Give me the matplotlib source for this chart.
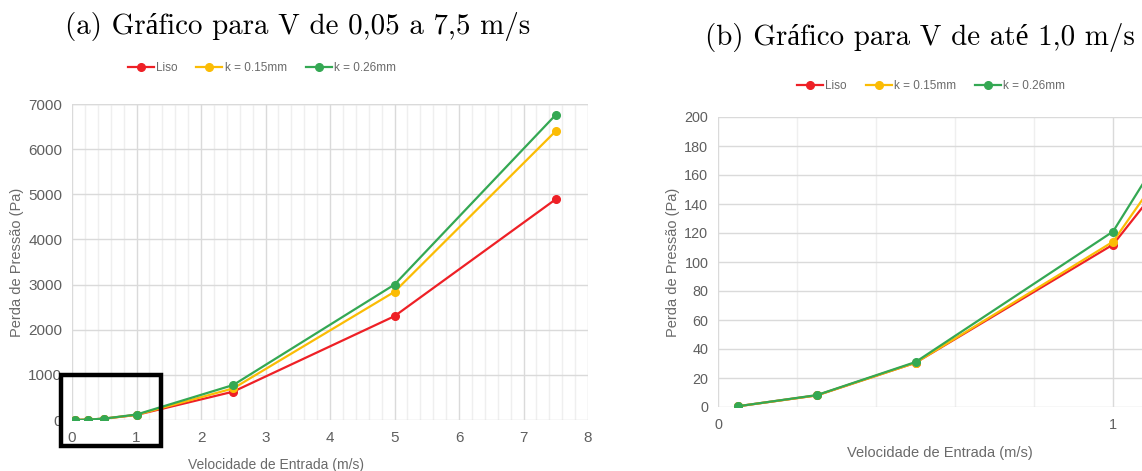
import matplotlib
matplotlib.use("Agg")
import matplotlib.pyplot as plt
from matplotlib.ticker import MultipleLocator
from matplotlib.patches import Rectangle

# ---- data ----
velocidade = [0.05, 0.25, 0.5, 1.0, 2.5, 5.0, 7.5]
liso = [0.5, 8, 30.5, 112, 628, 2300, 4890]
k015 = [0.5, 8, 30.5, 114, 700, 2840, 6400]
k026 = [0.5, 8.2, 31, 121, 775, 3000, 6760]
series_names = ["Liso", "k = 0.15mm", "k = 0.26mm"]
titles = ["(a) Gráfico para V de 0,05 a 7,5 m/s", "(b) Gráfico para V de até 1,0 m/s"]
xlabel = "Velocidade de Entrada (m/s)"
ylabel = "Perda de Pressão (Pa)"

colors = ["#ee2026", "#fbbc04", "#34a853"]
W, H = 1142, 471
fig = plt.figure(figsize=(W / 100, H / 100), dpi=100)
fig.patch.set_facecolor("white")

sans = ["Liberation Sans", "DejaVu Sans"]
serif = ["cmr10", "Liberation Serif", "DejaVu Serif"]
tick_col = "#5f5f5f"
label_col = "#6a6a6a"


def px_axes(l, r, t, b):
    return fig.add_axes([l / W, (H - b) / H, (r - l) / W, (b - t) / H])


def style(ax, xmaj, xmin, ymaj, fs):
    for s in ax.spines.values():
        s.set_visible(False)
    ax.xaxis.set_major_locator(MultipleLocator(xmaj))
    ax.xaxis.set_minor_locator(MultipleLocator(xmin))
    ax.yaxis.set_major_locator(MultipleLocator(ymaj))
    ax.grid(which="major", color="#dadada", linewidth=1.0)
    ax.grid(which="minor", axis="x", color="#efefef", linewidth=1.0)
    ax.set_axisbelow(True)
    ax.tick_params(which="both", length=0, labelcolor=tick_col, labelsize=fs)
    ax.tick_params(axis="y", pad=7)
    ax.tick_params(axis="x", pad=8)
    for lab in ax.get_xticklabels() + ax.get_yticklabels():
        lab.set_family(sans)


def plot_series(ax):
    handles = []
    for vals, c, n in zip([liso, k015, k026], colors, series_names):
        h, = ax.plot(velocidade, vals, color=c, lw=1.6, marker="o", ms=5.5,
                     label=n, clip_on=True)
        handles.append(h)
    return handles


# ---- panel (a) ----
axa = px_axes(72, 588, 104, 420)
ha = plot_series(axa)
axa.set_xlim(0, 8)
axa.set_ylim(0, 7000)
style(axa, 1, 0.2, 1000, 11)
axa.axhline(7000, color="#dadada", lw=1.0, zorder=0)
axa.set_xlabel(xlabel, family=sans, color=label_col, fontsize=10, labelpad=7)
axa.xaxis.set_label_coords((276 - 72) / 516, -0.12)
axa.set_ylabel(ylabel, family=sans, color=label_col, fontsize=10.5, labelpad=3)
axa.legend(handles=ha, loc="lower center", bbox_to_anchor=(0.368, 1.06), ncol=3,
           frameon=False, prop={"family": sans, "size": 8.5}, handlelength=2.2,
           handletextpad=0.2, columnspacing=1.6, labelcolor=label_col)
fig.text(298 / W, 1 - 26 / H, titles[0], family=serif, fontsize=20.9,
         ha="center", va="center")

# ---- panel (b) ----
axb = px_axes(718, 1162, 117, 407)
hb = plot_series(axb)
axb.set_xlim(0, 1.124)
axb.set_ylim(0, 200)
style(axb, 1, 0.2, 20, 10.4)
axb.set_xlabel(xlabel, family=sans, color=label_col, fontsize=10.5, labelpad=10)
axb.set_ylabel(ylabel, family=sans, color=label_col, fontsize=10.5, labelpad=3)
axb.legend(handles=hb, loc="lower center", bbox_to_anchor=(0.48, 1.05), ncol=3,
           frameon=False, prop={"family": sans, "size": 8.5}, handlelength=2.2,
           handletextpad=0.2, columnspacing=1.6, labelcolor=label_col)
fig.text(920 / W, 1 - 37 / H, titles[1], family=serif, fontsize=20.9,
         ha="center", va="center")

# ---- highlight box on panel (a) ----
fig.patches.append(Rectangle((61 / W, (H - 446) / H), 100 / W, 71 / H,
                             transform=fig.transFigure, fill=False,
                             edgecolor="black", linewidth=3.2, zorder=10))

fig.savefig("out.png", dpi=100)
